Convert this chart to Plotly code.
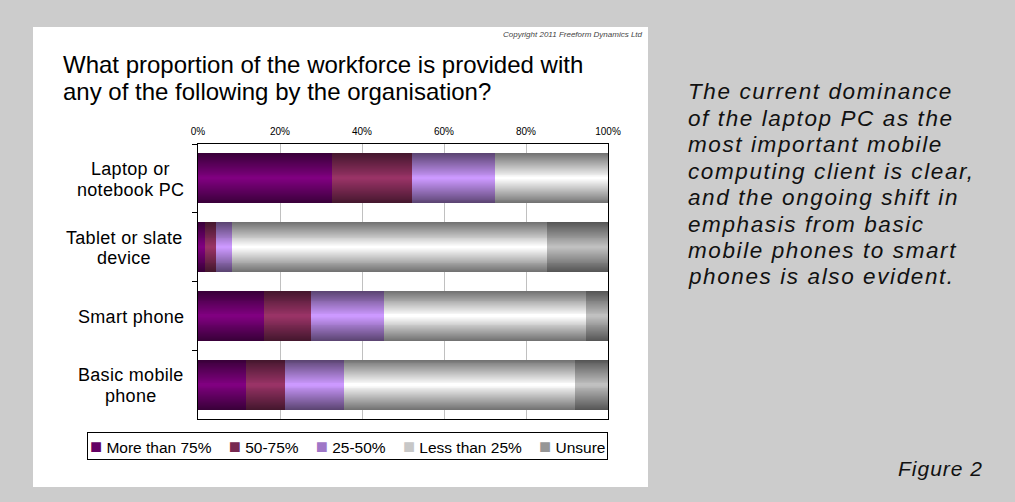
import plotly.graph_objects as go

# ---- data -------------------------------------------------------------
categories = ["Laptop or notebook PC", "Tablet or slate device", "Smart phone", "Basic mobile phone"]
category_lines = [["Laptop or", "notebook PC"], ["Tablet or slate", "device"],
                  ["Smart phone"], ["Basic mobile", "phone"]]
series_names = ["More than 75%", "50-75%", "25-50%", "Less than 25%", "Unsure"]
more_than_75 = [32.8, 1.7, 16.1, 11.7]
pct_50_75 = [19.3, 2.7, 11.4, 9.5]
pct_25_50 = [20.4, 3.9, 17.8, 14.3]
less_than_25 = [27.5, 76.9, 49.3, 56.5]
unsure = [0.0, 14.8, 5.4, 8.0]
tick_values = [0, 20, 40, 60, 80, 100]
tick_labels = ["0%", "20%", "40%", "60%", "80%", "100%"]

series_values = [more_than_75, pct_50_75, pct_25_50, less_than_25, unsure]
series_colors = ["#800080", "#993366", "#cc99ff", "#ffffff", "#c0c0c0"]

title_lines = ["What proportion of the workforce is provided with",
               "any of the following by the organisation?"]
comment_lines = ["The current dominance", "of the laptop PC as the",
                 "most important mobile", "computing client is clear,",
                 "and the ongoing shift in", "emphasis from basic",
                 "mobile phones to smart", "phones is also evident."]

# ---- geometry ---------------------------------------------------------
W, H = 1015, 502
ML, MR, MT, MB = 198, 407, 144, 83
PW, PH = W - ML - MR, H - MT - MB


def px_x(px):
    return (px - ML) / PW


def px_y(py):
    return (H - MB - py) / PH


def hex_rgb(h):
    h = h.lstrip("#")
    return [int(h[i:i + 2], 16) for i in (0, 2, 4)]


def shade(hex_color, t, dark=0.45):
    """Blend from a darkened edge tone (t=0) to the full colour (t=1)."""
    c = hex_rgb(hex_color)
    e = [v * dark for v in c]
    r = [round(e[i] + (c[i] - e[i]) * t) for i in range(3)]
    return "rgb(%d,%d,%d)" % tuple(r)


def spaced(text, px):
    return '<span style="letter-spacing:%spx">%s</span>' % (px, text)


BAR_W = 0.727          # bar thickness in category units
N_BANDS = 26           # nested bands used for the edge-to-centre shading

fig = go.Figure()

# stacked segments: each segment starts where the previous one ends;
# each segment is drawn as nested, progressively thinner and lighter bars
bases = [0.0] * len(categories)
for name, vals, col in zip(series_names, series_values, series_colors):
    seg_base = list(bases)
    for k in range(N_BANDS):
        t = k / (N_BANDS - 1)
        fig.add_trace(go.Bar(
            orientation="h",
            y=categories,
            x=vals,
            base=seg_base,
            width=BAR_W * (1 - k / N_BANDS),
            marker=dict(color=shade(col, t), line=dict(width=0)),
            name=name,
            legendgroup=name,
            showlegend=False,
            hoverinfo="skip",
        ))
    bases = [b + v for b, v in zip(bases, vals)]

fig.update_layout(
    width=W, height=H,
    margin=dict(l=ML, r=MR, t=MT, b=MB, pad=0),
    paper_bgcolor="#cccccc",
    plot_bgcolor="white",
    barmode="overlay",
    bargap=0,
    showlegend=False,
    font=dict(family="Liberation Sans, Arial, sans-serif", color="black"),
)

fig.update_xaxes(
    range=[0, 100], side="top",
    tickvals=tick_values, ticktext=tick_labels,
    tickfont=dict(size=10, color="black"),
    ticks="", ticklabelstandoff=4,
    showgrid=True, gridcolor="#c0c0c0", gridwidth=1,
    showline=True, linecolor="black", linewidth=1, mirror=True,
    zeroline=False, fixedrange=True,
)
fig.update_yaxes(
    type="category", categoryorder="array", categoryarray=categories,
    range=[len(categories) - 0.5, -0.5],
    showticklabels=False,
    ticks="outside", tickson="boundaries", ticklen=5, tickcolor="black",
    showgrid=False,
    showline=True, linecolor="black", linewidth=1, mirror=True,
    zeroline=False, fixedrange=True,
)

# white panel behind the chart
fig.add_shape(type="rect", xref="paper", yref="paper",
              x0=px_x(33), x1=px_x(648), y0=px_y(487), y1=px_y(27),
              fillcolor="white", line=dict(width=0), layer="below")

# category labels: each block's lines share a centre so the widest ends at the axis
label_centres = [130, 124, 130.5, 131]
LABEL_GAP = 20.7
for cat, lines, cx in zip(categories, category_lines, label_centres):
    n = len(lines)
    for j, line in enumerate(lines):
        fig.add_annotation(x=px_x(cx), xref="paper", y=cat, yref="y",
                           yshift=((n - 1) / 2 - j) * LABEL_GAP - 1,
                           text=spaced(line, 0.3), showarrow=False,
                           xanchor="center", yanchor="middle",
                           font=dict(size=18, color="black"))

# question title
for j, line in enumerate(title_lines):
    fig.add_annotation(x=px_x(61), xref="paper", y=px_y(65 + 26 * j), yref="paper",
                       text=line, showarrow=False, xanchor="left", yanchor="middle",
                       font=dict(size=24, color="black"))

# copyright line
fig.add_annotation(x=px_x(645), xref="paper", y=px_y(34), yref="paper",
                   text="<i>Copyright 2011 Freeform Dynamics Ltd</i>",
                   showarrow=False, xanchor="right", yanchor="middle",
                   font=dict(size=8, color="#444444"))

# commentary
for j, line in enumerate(comment_lines):
    fig.add_annotation(x=px_x(686), xref="paper", y=px_y(92 + 26.4 * j), yref="paper",
                       text="<i>%s</i>" % spaced(line, 1.6), showarrow=False,
                       xanchor="left", yanchor="middle",
                       font=dict(size=22.5, color="#111111"))

fig.add_annotation(x=px_x(985), xref="paper", y=px_y(468), yref="paper",
                   text="<i>%s</i>" % spaced("Figure 2", 1.0), showarrow=False,
                   xanchor="right", yanchor="middle",
                   font=dict(size=21, color="#111111"))

# legend box
NB = "\u00a0"
legend_parts = []
for name, col in zip(series_names, series_colors):
    legend_parts.append('<span style="font-size:20px;color:%s">\u25a0</span>%s%s'
                        % (shade(col, 0.6), NB, name))
fig.add_annotation(x=1.0, xref="paper", y=px_y(432), yref="paper",
                   text=(NB * 4).join(legend_parts), showarrow=False,
                   xanchor="right", yanchor="top",
                   bgcolor="white", bordercolor="black", borderwidth=1, borderpad=2,
                   font=dict(size=15.5, color="black"))

fig.write_html("out.html")
